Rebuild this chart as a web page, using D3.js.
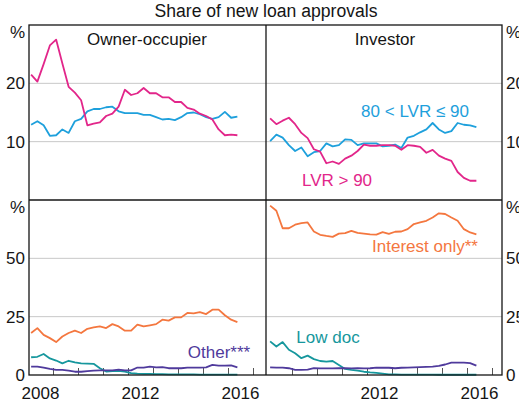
<!DOCTYPE html>
<meta charset="utf-8">
<body style="margin: 0; overflow: hidden; background: #fff">
<script src="https://d3js.org/d3.v7.min.js"></script>
<script>
    // quarterly observations, plotted at mid-quarter
    var quarters = ["2008Q1","2008Q2","2008Q3","2008Q4","2009Q1","2009Q2","2009Q3","2009Q4",
        "2010Q1","2010Q2","2010Q3","2010Q4","2011Q1","2011Q2","2011Q3","2011Q4",
        "2012Q1","2012Q2","2012Q3","2012Q4","2013Q1","2013Q2","2013Q3","2013Q4",
        "2014Q1","2014Q2","2014Q3","2014Q4","2015Q1","2015Q2","2015Q3","2015Q4",
        "2016Q1","2016Q2"];

    // owner-occupier
    var ownerLvr90 = [21.5,20.3,23.3,26.5,27.5,23.4,19.4,18.4,17.1,12.8,13.1,13.3,14.4,14.8,16.0,18.9,18.0,
        18.3,19.2,18.3,18.3,17.6,17.6,16.8,16.8,15.8,15.5,14.8,14.4,13.8,12.1,11.1,11.2,11.1];
    var ownerLvr8090 = [12.9,13.5,12.8,11.0,11.1,12.1,11.5,13.5,13.9,15.2,15.6,15.6,15.9,16.0,15.2,14.9,14.9,
        14.9,14.6,14.6,14.2,13.8,13.9,13.7,14.2,14.9,15.0,14.7,14.2,13.9,14.2,15.1,14.1,14.3];
    var ownerIO = [18.0,20.1,17.2,15.8,14.1,16.5,18.0,19.0,18.0,19.8,20.4,20.8,20.1,21.8,20.8,19.0,19.0,
        21.6,20.8,21.3,21.8,23.7,23.3,24.7,24.7,26.6,26.4,26.9,26.1,28.0,28.0,25.6,23.7,22.7];
    var ownerLowDoc = [7.6,7.8,9.0,7.1,6.2,5.0,6.1,5.4,5.0,4.9,4.8,2.9,1.5,1.7,1.8,1.4,0.8,
        0.6,0.5,0.5,0.4,0.4,0.3,0.3,0.3,0.3,0.3,0.2,0.2,0.2,0.2,0.2,0.2,0.2];
    var ownerOther = [3.6,3.6,3.2,2.6,2.2,2.2,1.9,1.4,1.4,1.7,1.9,2.0,2.0,2.0,2.3,2.0,2.0,
        3.2,3.2,3.6,3.3,3.4,2.9,2.9,2.9,3.2,3.2,3.2,3.3,4.3,4.0,4.0,4.1,3.3];

    // investor
    var invLvr90 = [14.0,13.0,13.6,14.1,13.0,11.5,10.6,8.7,8.3,6.3,6.6,6.2,7.1,7.6,8.4,9.5,9.3,
        9.3,9.4,9.4,9.3,8.6,9.4,9.3,9.1,8.1,8.6,7.6,7.1,6.7,4.8,3.8,3.3,3.3];
    var invLvr8090 = [10.1,11.2,10.7,9.4,8.4,9.0,7.5,8.2,8.4,9.7,9.2,9.4,10.4,10.3,9.4,9.7,9.7,
        9.7,9.2,9.3,9.5,8.9,10.7,11.0,11.6,12.1,13.2,12.1,11.5,11.8,13.2,12.9,12.8,12.5];
    var invIO = [72.6,70.4,62.9,62.9,64.4,65.1,65.4,61.5,60.1,59.6,59.2,60.6,60.8,61.8,60.9,60.6,60.3,
        60.2,61.2,60.5,61.4,61.5,62.5,64.7,65.4,66.1,67.5,69.3,69.0,67.5,66.1,62.5,61.1,60.3];
    var invLowDoc = [14.4,12.2,14.1,10.8,9.3,7.2,8.3,6.8,6.0,5.7,6.0,4.3,2.6,2.2,1.9,1.4,1.1,
        0.9,0.6,0.3,0.3,0.2,0.2,0.2,0.2,0.2,0.2,0.1,0.1,0.1,0.1,0.1,0.1,0.1];
    var invOther = [3.3,3.2,3.2,2.9,2.2,2.2,2.3,2.9,2.8,2.8,2.8,2.9,2.9,2.8,2.9,2.8,2.9,
        3.2,3.1,3.1,2.9,3.1,3.2,3.3,3.4,3.5,3.6,3.9,4.5,5.3,5.3,5.3,5.1,4.0];

    var topTicks = [10, 20];
    var bottomTicks = [0, 25, 50];
    var yearTicks = [2009, 2010, 2011, 2012, 2013, 2014, 2015, 2016, 2017];
    var yearLabels = [2008, 2012, 2016];

    var colors = {
        lvr90: "#e2268a",
        lvr8090: "#1ea0dc",
        io: "#f4773f",
        lowdoc: "#16979d",
        other: "#4f3a9c"
    };

    var width = 519, height = 404;
    var font = "Arial, 'Liberation Sans', sans-serif";
    var ink = "#151515";

    var svg = d3.select("body").append("svg")
        .attr("width", width)
        .attr("height", height)
        .style("font-family", font);

    var toYear = function (q) {
        return +q.slice(0, 4) + (+q.slice(5) - 1) * 0.25 + 0.125;
    };

    var xLeft = d3.scaleLinear().domain([2008.04, 2017.52]).range([29, 266]);
    var xRight = d3.scaleLinear().domain([2007.96, 2017.40]).range([266, 502]);
    var yTop = d3.scaleLinear().domain([0, 30]).range([200, 25]);
    var yBottom = d3.scaleLinear().domain([0, 75]).range([375, 200]);

    var panels = [
        {x: xLeft, y: yTop, series: [[ownerLvr8090, colors.lvr8090], [ownerLvr90, colors.lvr90]]},
        {x: xRight, y: yTop, series: [[invLvr8090, colors.lvr8090], [invLvr90, colors.lvr90]]},
        {x: xLeft, y: yBottom, series: [[ownerLowDoc, colors.lowdoc], [ownerOther, colors.other], [ownerIO, colors.io]]},
        {x: xRight, y: yBottom, series: [[invLowDoc, colors.lowdoc], [invOther, colors.other], [invIO, colors.io]]}
    ];

    // gridlines
    [[yTop, topTicks], [yBottom, bottomTicks]].forEach(function (p) {
        p[1].filter(function (t) { return t > 0; }).forEach(function (t) {
            svg.append("line")
                .attr("x1", 29).attr("x2", 502)
                .attr("y1", p[0](t)).attr("y2", p[0](t))
                .attr("stroke", "#c8c8c8").attr("stroke-width", 1);
        });
    });

    // year ticks on the bottom axis
    [xLeft, xRight].forEach(function (x) {
        yearTicks.forEach(function (yr) {
            var px = Math.round(x(yr)) + 0.5;
            if (px <= x.range()[0] + 1 || px >= x.range()[1] - 1) return;
            svg.append("line")
                .attr("x1", px).attr("x2", px)
                .attr("y1", 375).attr("y2", 368)
                .attr("stroke", "#555").attr("stroke-width", 1);
        });
    });

    // series
    panels.forEach(function (p) {
        var line = d3.line()
            .x(function (d, i) { return p.x(toYear(quarters[i])); })
            .y(function (d) { return p.y(d); });
        p.series.forEach(function (s) {
            svg.append("path")
                .datum(s[0])
                .attr("d", line)
                .attr("fill", "none")
                .attr("stroke", s[1])
                .attr("stroke-width", 1.8)
                .attr("stroke-linejoin", "round");
        });
    });

    // frame
    svg.append("rect")
        .attr("x", 29).attr("y", 25).attr("width", 473).attr("height", 350)
        .attr("fill", "none").attr("stroke", ink).attr("stroke-width", 1.3);
    svg.append("line").attr("x1", 266).attr("x2", 266).attr("y1", 25).attr("y2", 375)
        .attr("stroke", ink).attr("stroke-width", 1.3);
    svg.append("line").attr("x1", 29).attr("x2", 502).attr("y1", 200).attr("y2", 200)
        .attr("stroke", ink).attr("stroke-width", 1.3);

    var text = function (x, y, str, anchor, color, size) {
        return svg.append("text")
            .attr("x", x).attr("y", y)
            .attr("text-anchor", anchor || "start")
            .attr("fill", color || ink)
            .style("font-size", (size || 17) + "px")
            .text(str);
    };

    // y tick labels, both sides
    [[yTop, topTicks], [yBottom, bottomTicks]].forEach(function (p) {
        p[1].forEach(function (t) {
            text(25, p[0](t) + 6, t, "end");
            text(506, p[0](t) + 6, t, "start");
        });
    });
    text(25, 38, "%", "end");
    text(506, 38, "%", "start");
    text(25, 213, "%", "end");
    text(506, 213, "%", "start");

    // x labels centred within the year
    yearLabels.forEach(function (yr) {
        text(xLeft(yr + 0.5), 399, yr, "middle");
        if (yr > 2008) text(xRight(yr + 0.5), 399, yr, "middle");
    });

    text(266, 17, "Share of new loan approvals", "middle", ink, 17.6);
    text(147, 45, "Owner-occupier", "middle");
    text(385, 45, "Investor", "middle");

    text(415, 117, "80 < LVR \u2264 90", "middle", colors.lvr8090);
    text(337, 186, "LVR > 90", "middle", colors.lvr90);
    text(425, 252, "Interest only**", "middle", colors.io);
    text(328, 343, "Low doc", "middle", colors.lowdoc);
    text(219, 358, "Other***", "middle", colors.other);
</script>
